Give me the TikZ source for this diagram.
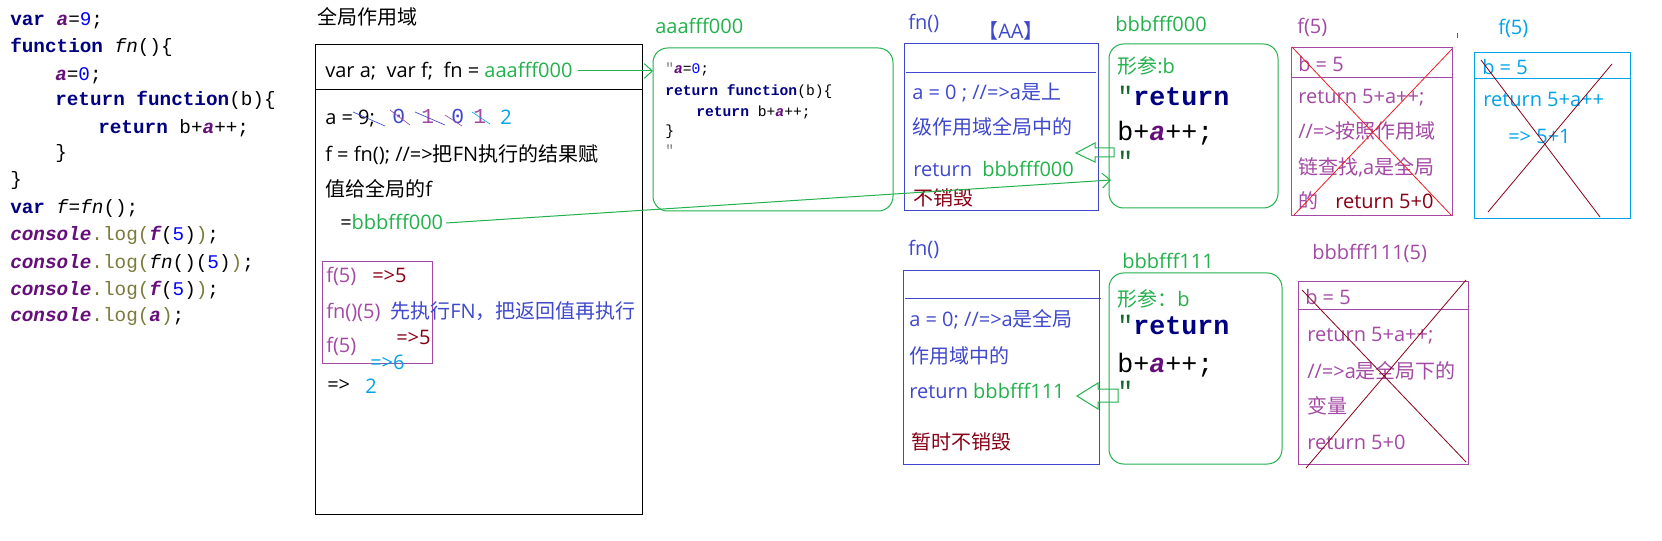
\documentclass[tikz,border=0pt]{standalone}
\usepackage{fontspec}
\setmainfont{Open Sans}
\newfontfamily\cjk{Noto Sans CJK SC}
\setmonofont{Liberation Mono}
\usetikzlibrary{arrows.meta}
\definecolor{pgreen}{HTML}{22B14C}
\definecolor{pindigo}{HTML}{3F48CC}
\definecolor{ppurple}{HTML}{A349A4}
\definecolor{pblue}{HTML}{00A2E8}
\definecolor{pdred}{HTML}{880015}
\definecolor{pred}{HTML}{ED1C24}
\definecolor{cnavy}{HTML}{000080}
\definecolor{cpurple}{HTML}{660E7A}
\definecolor{cnum}{HTML}{0000FF}
\definecolor{colive}{HTML}{7A7A3A}
\newcommand\zh[1]{{\cjk #1}}
\newcommand\cKw[1]{\textcolor{cnavy}{\bfseries #1}}
\newcommand\cVar[1]{\textcolor{cpurple}{\bfseries\itshape #1}}
\newcommand\cNum[1]{\textcolor{cnum}{#1}}
\newcommand\cLog[1]{\textcolor{colive}{#1}}
\begin{document}
\begin{tikzpicture}[x=0.75pt, y=-0.75pt,
    lbl/.style={anchor=west, inner sep=0pt, text height=12pt, text depth=2pt, font=\fontsize{15}{18}\selectfont},
    code/.style={anchor=west, inner sep=0pt, text height=10.5pt, text depth=2.5pt, font=\ttfamily\fontsize{14.5}{18}\selectfont},
    smallcode/.style={code, text height=8pt, text depth=2pt, font=\ttfamily\fontsize{11}{14}\selectfont},
    bigcode/.style={code, text height=14pt, text depth=3pt, font=\ttfamily\fontsize{20}{24}\selectfont},
    digit/.style={code, font=\ttfamily\fontsize{16}{18}\selectfont},
    frame/.style={line width=0.75pt},
    roundframe/.style={pgreen, line width=0.75pt, rounded corners=11pt},
    cross/.style={line width=0.6pt},
    strike/.style={line width=0.5pt},
    link/.style={pgreen, line width=0.75pt, -{Straight Barb[length=6pt,width=11pt]}},
    hollow/.style={pgreen, line width=0.75pt}]
    \useasboundingbox (0,0) rectangle (1662,541);
    % Code
    \node[code] (c1) at (10,20) {\cKw{var} \cVar{a}=\cNum{9};};
    \node[code] (c2) at (10,47) {\cKw{function} \textit{fn}()\{};
    \node[code] (c3) at (55,75) {\cVar{a}=\cNum{0};};
    \node[code] (c4) at (55,100) {\cKw{return} \cKw{function}(b)\{};
    \node[code] (c5) at (98,128) {\cKw{return} b+\cVar{a}++;};
    \node[code] (c6) at (55,153) {\}};
    \node[code] (c7) at (10,180) {\}};
    \node[code] (c8) at (10,208) {\cKw{var} \textit{f}=\textit{fn}();};
    \node[code] (c9) at (10,235) {\cVar{console}\cLog{.log(}\cVar{f}(\cNum{5})\cLog{)};};
    \node[code] (c10) at (10,263) {\cVar{console}\cLog{.log(}\textit{fn}()(\cNum{5})\cLog{)};};
    \node[code] (c11) at (10,290) {\cVar{console}\cLog{.log(}\cVar{f}(\cNum{5})\cLog{)};};
    \node[code] (c12) at (10,316) {\cVar{console}\cLog{.log(}\cVar{a}\cLog{)};};
    % Global scope
    \node[lbl] (gtitle) at (317,18) {\zh{全局作用域}};
    \draw[frame] (315,45) rectangle (642,514);
    \draw[frame] (315,90) -- (642,90);
    \node[lbl] (ghead) at (325,71) {var a;\ \ var f;\ \ fn = \textcolor{pgreen}{aaafff000}};
    \node[lbl] (ga) at (325,118) {a = 9;};
    \node[digit, pindigo] (gd1) at (392,118) {0};
    \node[digit, ppurple] (gd2) at (421,118) {1};
    \node[digit, pindigo] (gd3) at (451,118) {0};
    \node[digit, ppurple] (gd4) at (473,118) {1};
    \node[lbl, pblue] (gd5) at (500,118) {2};
    \draw[strike, pindigo] (353,112) -- (385,126);
    \draw[strike, ppurple] (390,110) -- (410,125);
    \draw[strike, pindigo] (415,112) -- (445,125);
    \draw[strike, ppurple] (445,115) -- (462,126);
    \draw[strike, pblue] (472,112) -- (490,124);
    \node[lbl] (gf) at (325,155) {f = fn(); //=>\zh{把}FN\zh{执行的结果赋}};
    \node[lbl] (gf2) at (325,190) {\zh{值给全局的}f};
    \node[lbl] (gbbb) at (340,223) {=\textcolor{pgreen}{bbbfff000}};
    % Calls
    \draw[frame, ppurple] (322,262) rectangle (432,363);
    \node[lbl, ppurple] (call1) at (326,276) {f(5)};
    \node[lbl, pdred] (res1) at (372,276) {=>5};
    \node[lbl, ppurple] (call2) at (326,312) {fn()(5)};
    \node[lbl, pindigo] (note2) at (390,312) {\zh{先执行}FN\zh{，把返回值再执行}};
    \node[lbl, ppurple] (call3) at (326,346) {f(5)};
    \node[lbl, pdred] (res2) at (396,338) {=>5};
    \node[lbl, pblue] (res3) at (370,363) {=>6};
    \node[lbl] (res4) at (327,385) {=>};
    \node[lbl, pblue] (res5) at (365,387) {2};
    % Heap aaafff000
    \node[lbl, pgreen] (atitle) at (655,27) {aaafff000};
    \draw[roundframe] (653,48) rectangle (893,211);
    \coordinate (aaaL) at (653,48);
    \node[smallcode] (a1) at (665,70) {\textcolor{gray}{"}\cVar{a}=\cNum{0};};
    \node[smallcode] (a2) at (665,92) {\cKw{return} \cKw{function}(b)\{};
    \node[smallcode] (a3) at (696,113) {\cKw{return} b+\cVar{a}++;};
    \node[smallcode] (a4) at (665,132) {\}};
    \node[smallcode] (a5) at (665,152) {\textcolor{gray}{"}};
    \draw[link] ([xshift=4pt]ghead.east) -- (ghead.east -| aaaL);
    % fn() first call
    \node[lbl, pindigo] (f1title) at (908,23) {fn()};
    \node[lbl, pindigo] (f1aa) at (978,32) {\zh{【}AA\zh{】}};
    \draw[frame, pindigo] (904,44) rectangle (1098,211);
    \draw[frame, pindigo] (906,73) -- (1096,73);
    \node[lbl, pindigo] (f1a) at (912,93) {a = 0 ; //=>a\zh{是上}};
    \node[lbl, pindigo] (f1b) at (912,128) {\zh{级作用域全局中的}};
    \node[lbl, pindigo] (f1c) at (913,170) {return\ \ \textcolor{pgreen}{bbbfff000}};
    \node[lbl, pdred] (f1d) at (913,199) {\zh{不销毁}};
    % bbbfff000
    \node[lbl, pgreen] (btitle) at (1115,25) {bbbfff000};
    \draw[roundframe] (1109,44) rectangle (1278,208);
    \coordinate (bbbIn) at (1111,180);
    \node[lbl, pgreen] (b1) at (1117,67) {\zh{形参}:b};
    \node[bigcode] (b2) at (1117,98) {\textcolor{pgreen!60!black}{"}\cKw{return}};
    \node[bigcode] (b3) at (1117,133) {b+\cVar{a}++;};
    \node[bigcode] (b4) at (1117,163) {\textcolor{pgreen!60!black}{"}};
    \coordinate (hA) at (1076,153);
    \draw[hollow] (hA) -- ++(19,-10) -- ++(0,5) -- ++(19,0) -- ++(0,9) -- ++(-19,0) -- ++(0,5) -- cycle;
    \draw[link] ([xshift=2pt]gbbb.east) -- (bbbIn);
    % f(5) first
    \node[lbl, ppurple] (p1title) at (1297,27) {f(5)};
    \draw[frame, ppurple] (1291,48) rectangle (1452,216);
    \draw[frame, ppurple] (1291,78) -- (1453,78);
    \node[lbl, ppurple] (p1a) at (1298,65) {b = 5};
    \node[lbl, ppurple] (p1b) at (1298,97) {return 5+a++;};
    \node[lbl, ppurple] (p1c) at (1298,132) {//=>\zh{按照作用域}};
    \node[lbl, ppurple] (p1d) at (1298,168) {\zh{链查找}{,}a\zh{是全局}};
    \node[lbl, ppurple] (p1e) at (1298,202) {\zh{的}};
    \node[lbl, pdred] (p1f) at (1335,202) {return 5+0};
    \draw[cross, pred] (1292,47) -- (1451,215);
    \draw[cross, pred] (1452,49) -- (1294,215);
    \draw[cross, pred] (1457,33) -- (1457,38);
    % f(5) second
    \node[lbl, pblue] (q1title) at (1498,28) {f(5)};
    \draw[frame, pblue] (1474,53) rectangle (1630,219);
    \draw[frame, pblue] (1474,79) -- (1630,79);
    \node[lbl, pblue] (q1a) at (1482,68) {b = 5};
    \node[lbl, pblue] (q1b) at (1483,100) {return 5+a++};
    \node[lbl, pblue] (q1c) at (1508,137) {=> 5+1};
    \draw[cross, pdred] (1481,60) -- (1600,217);
    \draw[cross, pdred] (1612,64) -- (1488,212);
    % fn() second call
    \node[lbl, pindigo] (f2title) at (908,249) {fn()};
    \draw[frame, pindigo] (903,271) rectangle (1099,464);
    \draw[frame, pindigo] (905,299) -- (1101,299);
    \node[lbl, pindigo] (f2a) at (909,320) {a = 0; //=>a\zh{是全局}};
    \node[lbl, pindigo] (f2b) at (909,357) {\zh{作用域中的}};
    \node[lbl, pindigo] (f2c) at (909,392) {return \textcolor{pgreen}{bbbfff111}};
    \node[lbl, pdred] (f2d) at (911,443) {\zh{暂时不销毁}};
    % bbbfff111
    \node[lbl, pgreen] (ctitle) at (1122,262) {bbbfff111};
    \draw[roundframe] (1109,273) rectangle (1282,464);
    \node[lbl, pgreen] (d1) at (1117,300) {\zh{形参：}b};
    \node[bigcode] (d2) at (1117,327) {\textcolor{pgreen!60!black}{"}\cKw{return}};
    \node[bigcode] (d3) at (1117,365) {b+\cVar{a}++;};
    \node[bigcode] (d4) at (1117,393) {\textcolor{pgreen!60!black}{"}};
    \coordinate (hB) at (1077,396);
    \draw[hollow] (hB) -- ++(21,-13) -- ++(0,6) -- ++(20,0) -- ++(0,13) -- ++(-20,0) -- ++(0,7) -- cycle;
    % bbbfff111(5)
    \node[lbl, ppurple] (r1title) at (1312,253) {bbbfff111(5)};
    \draw[frame, ppurple] (1298,282) rectangle (1468,464);
    \draw[frame, ppurple] (1298,310) -- (1468,310);
    \node[lbl, ppurple] (r1a) at (1305,298) {b = 5};
    \node[lbl, ppurple] (r1b) at (1307,335) {return 5+a++;};
    \node[lbl, ppurple] (r1c) at (1307,372) {//=>a\zh{是全局下的}};
    \node[lbl, ppurple] (r1d) at (1307,407) {\zh{变量}};
    \node[lbl, ppurple] (r1e) at (1307,443) {return 5+0};
    \draw[cross, pdred] (1302,290) -- (1466,462);
    \draw[cross, pdred] (1466,280) -- (1306,468);
\end{tikzpicture}
\end{document}
